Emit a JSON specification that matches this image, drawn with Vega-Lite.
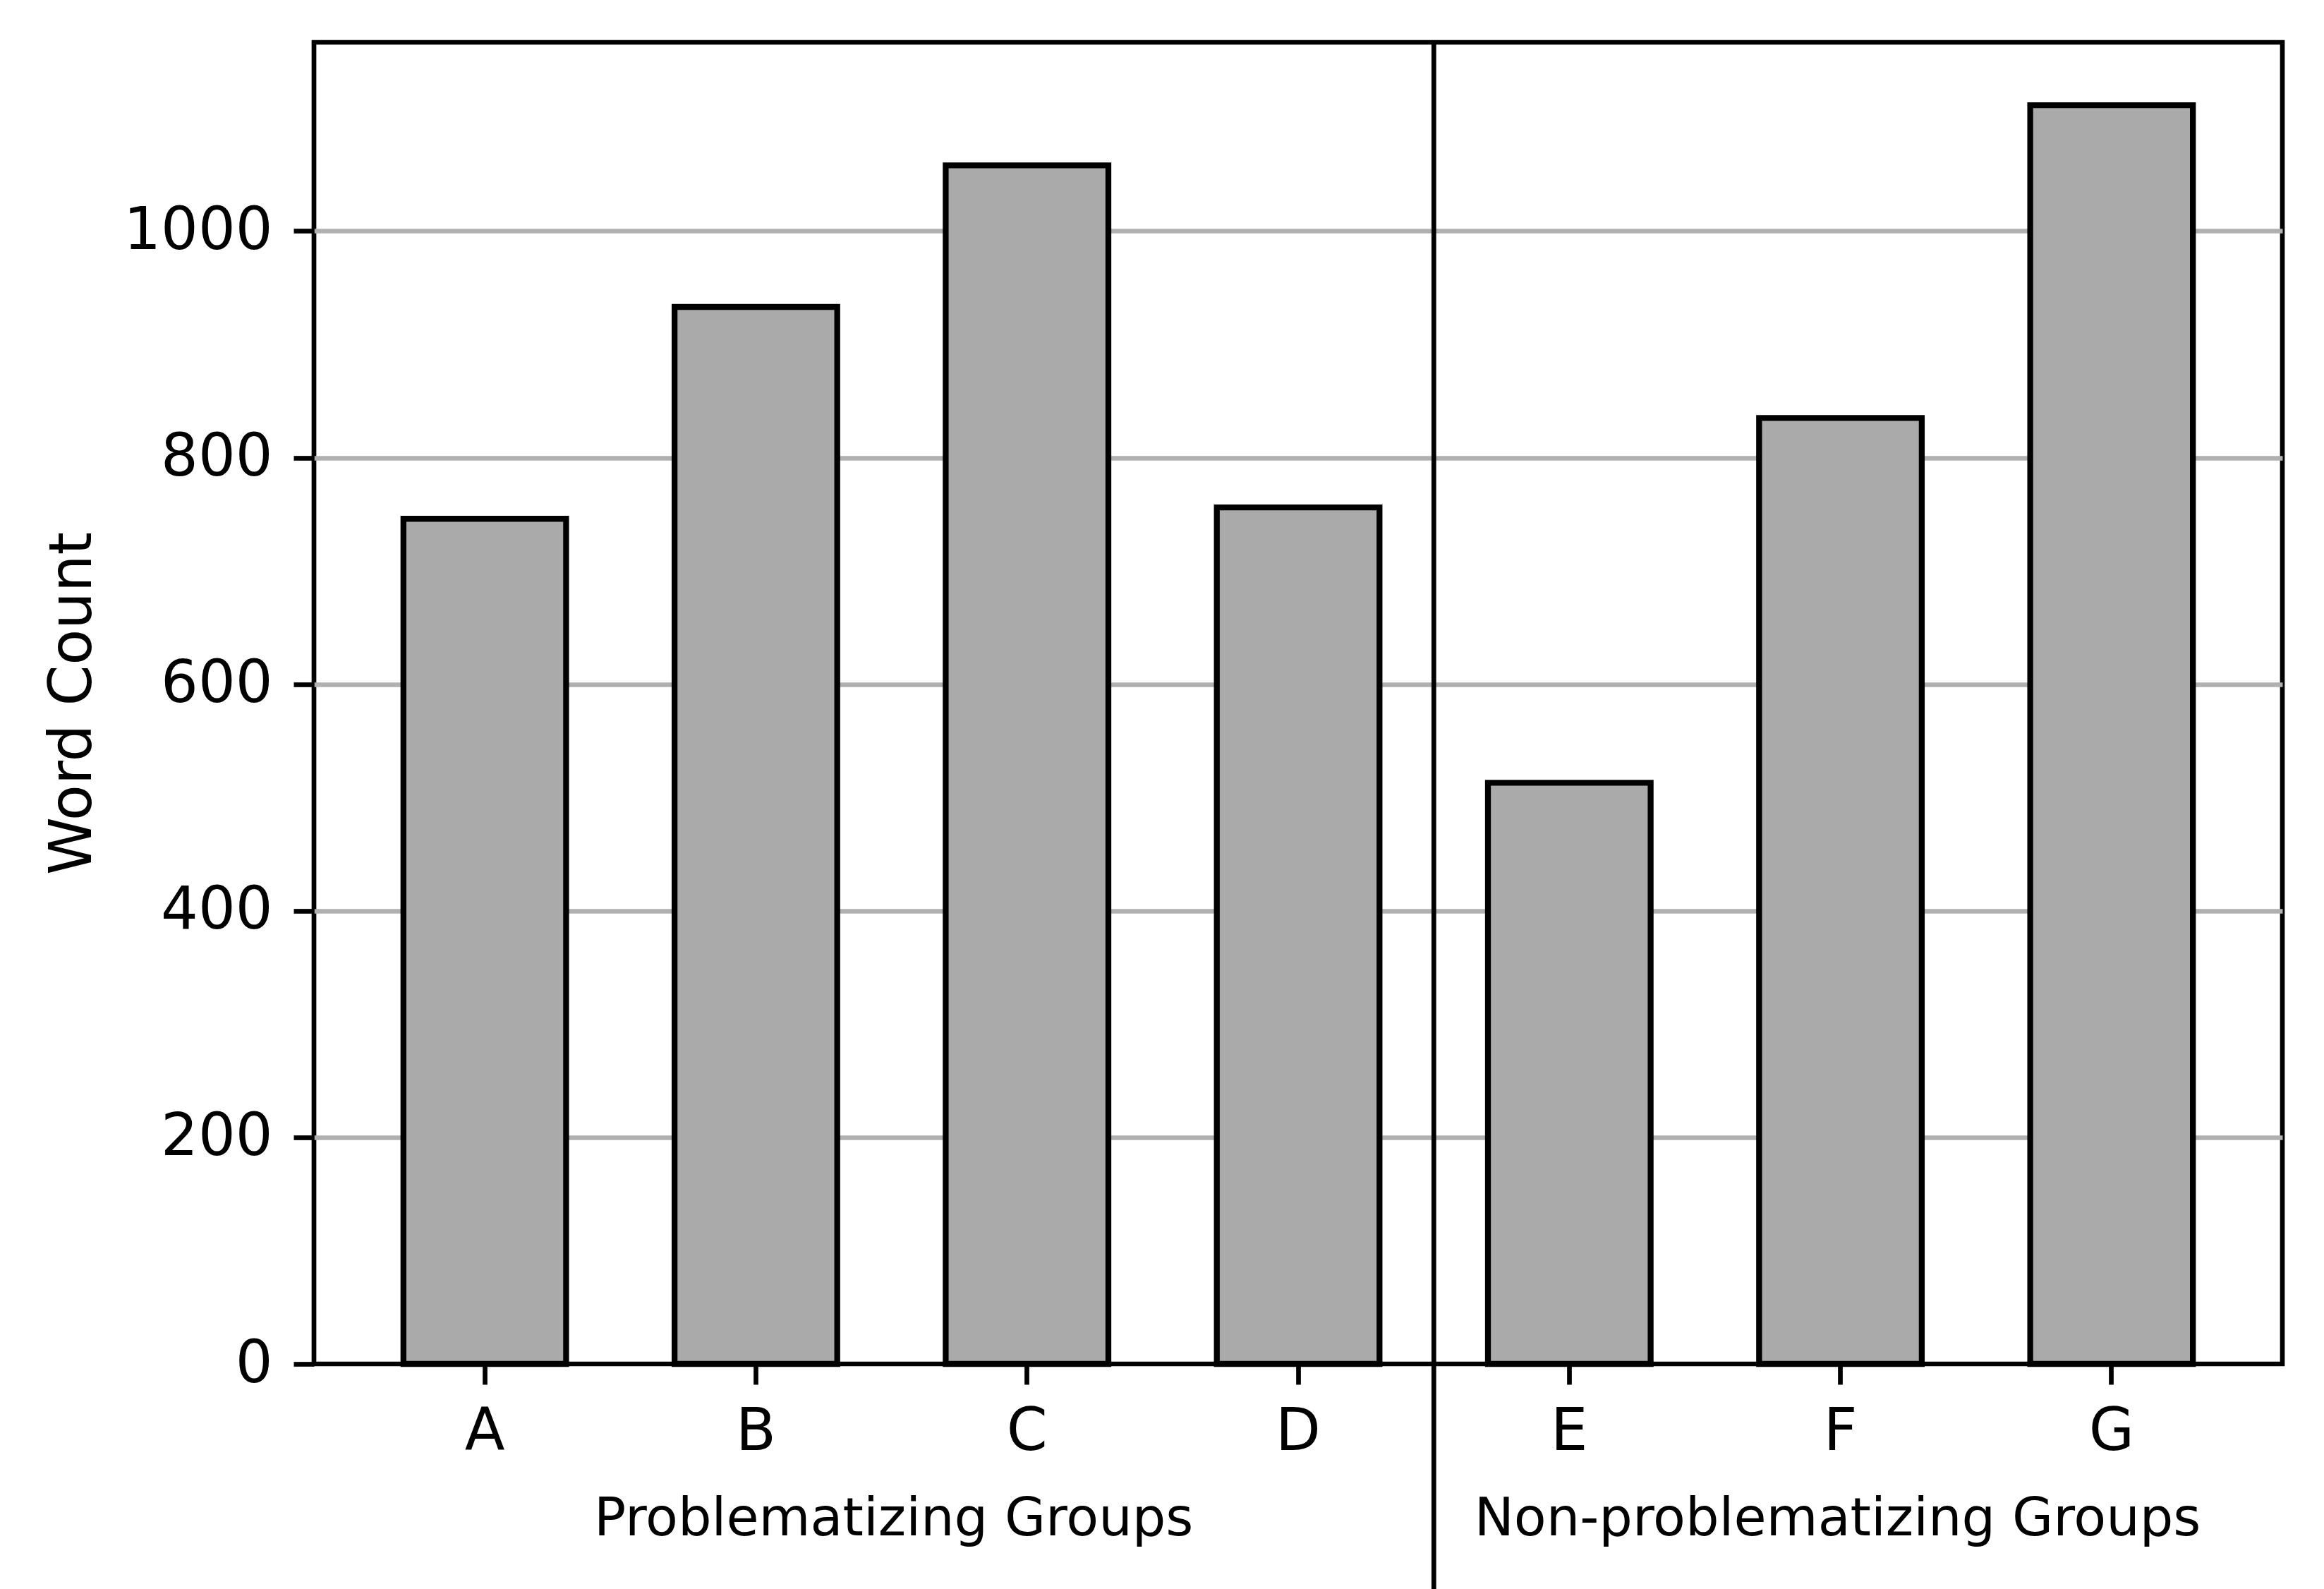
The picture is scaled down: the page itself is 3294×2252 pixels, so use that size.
{
  "$schema": "https://vega.github.io/schema/vega-lite/v6.json",
  "autosize": {"type": "none"},
  "width": 2790,
  "height": 1873,
  "padding": {"left": 445, "top": 60, "right": 59, "bottom": 319},
  "background": "white",
  "config": {
    "font": "DejaVu Sans",
    "view": {"stroke": "black", "strokeWidth": 6.7},
    "axis": {
      "labelFont": "DejaVu Sans",
      "titleFont": "DejaVu Sans",
      "labelFontSize": 83,
      "titleFontSize": 83,
      "labelColor": "black",
      "titleColor": "black",
      "titleFontWeight": "normal",
      "tickColor": "black",
      "tickWidth": 6.7,
      "tickSize": 29,
      "labelLimit": 1000,
      "domain": false
    }
  },
  "layer": [
    {
      "data": {
        "values": [
          {"group": "A", "count": 746},
          {"group": "B", "count": 933},
          {"group": "C", "count": 1058},
          {"group": "D", "count": 756},
          {"group": "E", "count": 513},
          {"group": "F", "count": 835},
          {"group": "G", "count": 1111}
        ]
      },
      "mark": {"type": "bar", "fill": "#aaaaaa", "stroke": "black", "strokeWidth": 8.3},
      "encoding": {
        "x": {
          "field": "group",
          "type": "nominal",
          "sort": null,
          "scale": {"paddingInner": 0.4, "paddingOuter": 0.33},
          "axis": {"title": null, "labelAngle": 0, "labelPadding": 26, "grid": false}
        },
        "y": {
          "field": "count",
          "type": "quantitative",
          "scale": {"domain": [0, 1166.55], "nice": false, "zero": true},
          "axis": {
            "title": "Word Count",
            "values": [0, 200, 400, 600, 800, 1000],
            "format": "d",
            "grid": true,
            "gridColor": "#b0b0b0",
            "gridWidth": 6.7,
            "gridOpacity": {"condition": {"test": "datum.value === 0", "value": 0}, "value": 1},
            "labelPadding": 30,
            "titlePadding": 100
          }
        }
      }
    },
    {
      "data": {"values": [{"divider": "between D and E"}]},
      "mark": {"type": "rule", "color": "black", "strokeWidth": 6.7, "xOffset": 77, "y2Offset": 330},
      "encoding": {
        "x": {"datum": "D", "bandPosition": 1},
        "y": {"datum": 1166.55},
        "y2": {"datum": 0}
      }
    },
    {
      "data": {"values": [{"label": "Problematizing Groups"}]},
      "mark": {"type": "text", "fontSize": 75, "color": "black", "baseline": "alphabetic", "align": "center", "dy": 243, "xOffset": 80},
      "encoding": {
        "x": {"datum": "B", "bandPosition": 1},
        "y": {"datum": 0},
        "text": {"field": "label"}
      }
    },
    {
      "data": {"values": [{"label": "Non-problematizing Groups"}]},
      "mark": {"type": "text", "fontSize": 75, "color": "black", "baseline": "alphabetic", "align": "center", "dy": 243, "xOffset": -4},
      "encoding": {
        "x": {"datum": "F", "bandPosition": 0.5},
        "y": {"datum": 0},
        "text": {"field": "label"}
      }
    }
  ]
}
